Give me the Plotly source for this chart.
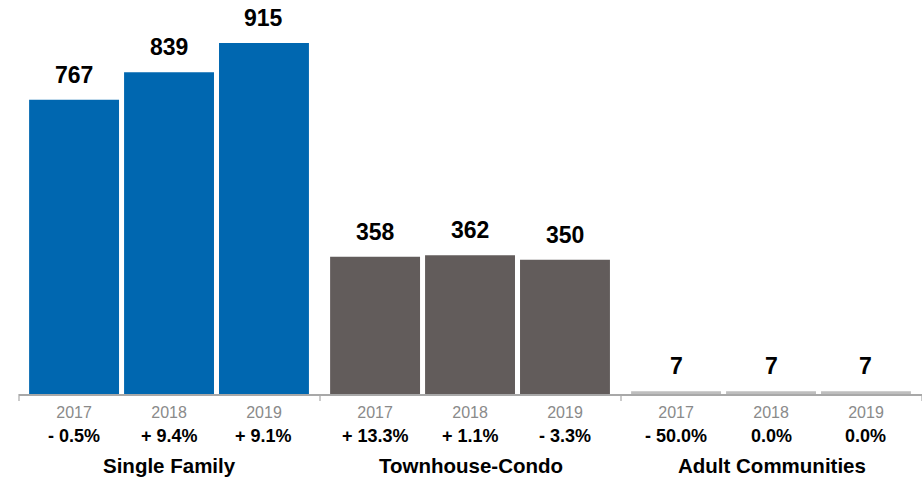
import plotly.graph_objects as go
from plotly.subplots import make_subplots

groups = ["Single Family", "Townhouse-Condo", "Adult Communities"]
years = ["2017", "2018", "2019"]
single_family = [767, 839, 915]
townhouse_condo = [358, 362, 350]
adult_communities = [7, 7, 7]
pct_single = ["- 0.5%", "+ 9.4%", "+ 9.1%"]
pct_townhouse = ["+ 13.3%", "+ 1.1%", "- 3.3%"]
pct_adult = ["- 50.0%", "0.0%", "0.0%"]

series = [single_family, townhouse_condo, adult_communities]
changes = [pct_single, pct_townhouse, pct_adult]
colors = ["#0067B0", "#625C5B", "#BEBEBE"]

FONT = "Liberation Sans, Arial, sans-serif"

fig = make_subplots(rows=1, cols=3, horizontal_spacing=0, shared_yaxes=True)

for i, (vals, pcts, col, name) in enumerate(zip(series, changes, colors, groups)):
    c = i + 1
    xr = "x" if c == 1 else f"x{c}"
    yr_ref = "y" if c == 1 else f"y{c}"
    fig.add_trace(
        go.Bar(x=years, y=vals, marker_color=col, marker_line_width=0, showlegend=False),
        row=1, col=c,
    )
    # valores encima de las barras (x = indice de categoria)
    for j, v in enumerate(vals):
        fig.add_annotation(
            x=j, y=v, xref=xr, yref=yr_ref, text=f"<b>{v}</b>", showarrow=False,
            yanchor="bottom", yshift=10, font=dict(size=23, color="black", family=FONT),
        )
    # variacion porcentual debajo del año
    for j, p in enumerate(pcts):
        fig.add_annotation(
            x=j, y=0, xref=xr, yref="paper", text=f"<b>{p}</b>", showarrow=False,
            yanchor="middle", yshift=-42, font=dict(size=18, color="black", family=FONT),
        )
    # nombre del grupo
    fig.add_annotation(
        x=0.5, y=0, xref=f"{xr} domain", yref="paper", text=f"<b>{name}</b>",
        showarrow=False, yanchor="middle", yshift=-71,
        font=dict(size=20.5, color="black", family=FONT),
    )
    # marca de separacion de grupo
    fig.add_shape(
        type="line", xref=f"{xr} domain", yref="paper", x0=0, x1=0,
        ysizemode="pixel", yanchor=0, y0=0, y1=-7,
        line=dict(color="#A8A8A8", width=1.2),
    )
    fig.update_xaxes(
        type="category", range=[-0.58, 2.59], showline=True, linecolor="#A8A8A8",
        linewidth=1.5, ticks="", tickfont=dict(size=16, color="#8A8A8A", family=FONT),
        ticklabelstandoff=3, showgrid=False, zeroline=False,
        row=1, col=c,
    )

fig.add_shape(
    type="line", xref="x3 domain", yref="paper", x0=1, x1=1,
    ysizemode="pixel", yanchor=0, y0=0, y1=-7,
    line=dict(color="#A8A8A8", width=1.2),
)

fig.update_yaxes(range=[0, 975], visible=False, showgrid=False)
fig.update_traces(cliponaxis=False)
fig.update_layout(
    width=922, height=478,
    margin=dict(l=19, r=0, t=20, b=84),
    bargap=0.053,
    plot_bgcolor="white", paper_bgcolor="white",
    font=dict(family=FONT),
)

fig.write_html(
    "out.html",
    config={"displayModeBar": False},
    post_script="document.body.style.margin='0';",
)
